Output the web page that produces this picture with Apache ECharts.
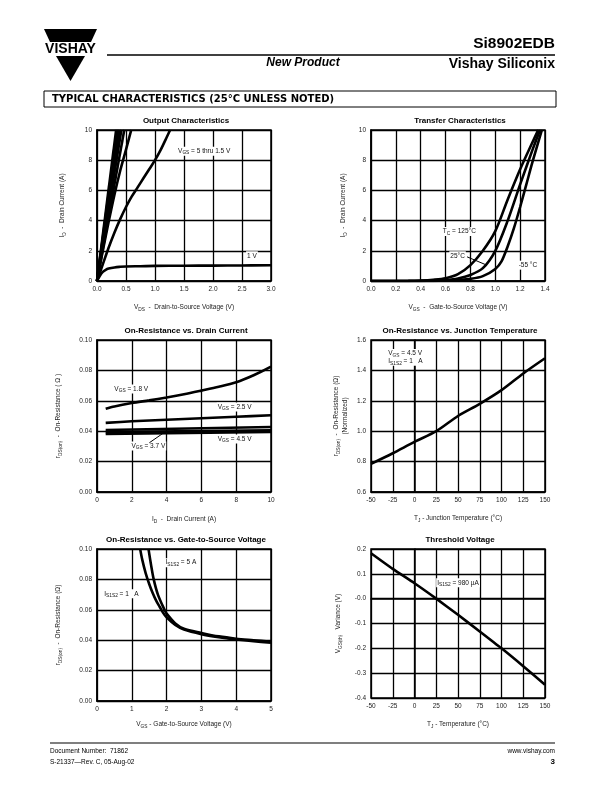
<!DOCTYPE html>
<html><head><meta charset="utf-8">
<script src="https://cdn.jsdelivr.net/npm/echarts@6/dist/echarts.min.js"></script>
<style>html,body{margin:0;padding:0;background:#fff}#c{width:612px;height:792px}</style>
</head><body><div id="c"></div>
<script>
// ---------- DATA ----------
// Output characteristics: [VDS (V), ID (A)]
const out_5V   = [[0,0],[0.33,10]];
const out_45V  = [[0,0],[0.35,10]];
const out_4V   = [[0,0],[0.37,10]];
const out_35V  = [[0,0],[0.39,10]];
const out_3V   = [[0,0],[0.42,10]];
const out_25V  = [[0,0],[0.47,10]];
const out_2V   = [[0,0],[0.1,2.0],[0.2,3.9],[0.3,5.7],[0.4,7.3],[0.5,8.7],[0.59,10]];
const out_15V  = [[0,0],[0.05,0.55],[0.1,1.1],[0.2,2.2],[0.3,3.2],[0.4,4.1],[0.5,4.9],[0.6,5.6],[0.7,6.2],[0.8,6.8],[0.9,7.4],[1.0,8.0],[1.1,8.7],[1.2,9.5],[1.26,10]];
const out_1V   = [[0,0],[0.05,0.35],[0.1,0.6],[0.15,0.74],[0.2,0.82],[0.3,0.9],[0.4,0.94],[0.5,0.96],[0.75,0.98],[1.0,1.0],[1.5,1.01],[2.0,1.02],[2.5,1.03],[3.0,1.04]];
// Transfer characteristics: [VGS (V), ID (A)]
const tr_125C = [[0,0],[0.3,0.01],[0.4,0.03],[0.5,0.08],[0.6,0.18],[0.7,0.45],[0.8,1.05],[0.9,2.0],[1.0,3.3],[1.1,5.4],[1.2,7.4],[1.3,9.2],[1.345,10]];
const tr_25C  = [[0,0],[0.4,0.01],[0.5,0.03],[0.6,0.07],[0.7,0.17],[0.8,0.4],[0.9,0.85],[1.0,2.0],[1.1,4.0],[1.2,6.4],[1.3,8.7],[1.36,10]];
const tr_m55C = [[0,0],[0.5,0.01],[0.6,0.03],[0.7,0.07],[0.8,0.14],[0.9,0.32],[1.0,0.8],[1.05,1.3],[1.1,2.3],[1.15,3.5],[1.2,4.9],[1.25,6.4],[1.3,7.9],[1.375,10]];
// On-resistance vs drain current: [ID (A), rDS(on) (ohm)]
const rid_18V = [[0.5,0.0548],[1,0.0563],[2,0.0585],[3,0.0603],[4,0.0622],[5,0.0643],[6,0.0667],[7,0.0692],[8,0.0722],[9,0.0768],[10,0.0825]];
const rid_25V = [[0.5,0.0455],[2,0.0465],[4,0.0475],[6,0.0485],[8,0.0495],[10,0.0505]];
const rid_3V  = [[0.5,0.0408],[10,0.0428]];
const rid_37V = [[0.5,0.0394],[10,0.0406]];
const rid_45V = [[0.5,0.0382],[10,0.0395]];
// On-resistance vs junction temperature (normalized)
const tj_temp = [-50,-25,0,25,50,75,100,125,150];
const tj_rnorm = [0.785,0.855,0.93,1.0,1.10,1.18,1.27,1.38,1.48];
// On-resistance vs gate-to-source voltage: [VGS (V), rDS(on)]
const rvg_1A = [[1.24,0.10],[1.3,0.093],[1.4,0.084],[1.5,0.077],[1.6,0.071],[1.7,0.066],[1.8,0.062],[1.9,0.058],[2.0,0.055],[2.25,0.050],[2.5,0.047],[3.0,0.0440],[3.5,0.042],[4.0,0.0405],[4.5,0.0393],[5.0,0.0383]];
const rvg_5A = [[1.48,0.10],[1.55,0.09],[1.63,0.08],[1.75,0.07],[1.94,0.06],[2.0,0.0575],[2.25,0.051],[2.5,0.0475],[3.0,0.0448],[3.5,0.0425],[4.0,0.041],[4.5,0.040],[5.0,0.039]];
// Threshold voltage variance
const vth_temp = [-50,-25,0,25,50,75,100,125,150];
const vth_var  = [0.183,0.12,0.062,0.0,-0.065,-0.132,-0.2,-0.272,-0.347];

// ---------- LAYOUT / STYLE ----------
const F = "'Liberation Sans', Arial, Helvetica, sans-serif";
const FN = "'Liberation Sans Narrow', 'Liberation Sans', Arial, sans-serif";
const grids = [
  {left:97, top:130, width:174, height:151},
  {left:371, top:130, width:174, height:151},
  {left:97, top:340, width:174, height:152},
  {left:371, top:340, width:174, height:152},
  {left:97, top:549, width:174, height:152},
  {left:371, top:549, width:174, height:149}
];
const richN = {
  m:{fontSize:6.5, fontFamily:F, color:'#222', lineHeight:9},
  s:{fontSize:4.8, fontFamily:F, color:'#222', lineHeight:5, verticalAlign:'bottom'}
};
function axX(i, min, max, interval, dec, name, gap){
  return {type:'value', gridIndex:i, min, max, interval,
    name, nameLocation:'middle', nameGap:gap, nameTextStyle:{rich:richN, fontSize:6.5, fontFamily:F, color:'#222'},
    axisLine:{show:true, lineStyle:{color:'#000', width:1.5}}, axisTick:{show:false},
    axisLabel:{fontSize:6.5, fontFamily:F, color:'#222', margin:5, formatter:v=>v.toFixed(dec)},
    splitLine:{show:true, lineStyle:{color:'#000', width:1.3}}};
}
function axY(i, min, max, interval, fmt, name, gap){
  return {type:'value', gridIndex:i, min, max, interval,
    name, nameLocation:'middle', nameGap:gap, nameRotate:90, nameTextStyle:{rich:richN, fontSize:6.5, fontFamily:F, color:'#222'},
    axisLine:{show:true, lineStyle:{color:'#000', width:1.5}}, axisTick:{show:false},
    axisLabel:{fontSize:6.5, fontFamily:F, color:'#222', margin:5, formatter:fmt},
    splitLine:{show:true, lineStyle:{color:'#000', width:1.3}}};
}
function ln(i, data, smooth){
  return {type:'line', xAxisIndex:i, yAxisIndex:i, data, showSymbol:false, symbol:'none',
    smooth: smooth||false, lineStyle:{color:'#000', width:2.6}, silent:true};
}
const zip = (a,b)=>a.map((v,k)=>[v,b[k]]);

const titlesTxt = ['Output Characteristics','Transfer Characteristics','On-Resistance vs. Drain Current',
  'On-Resistance vs. Junction Temperature','On-Resistance vs. Gate-to-Source Voltage','Threshold Voltage'];
const titles = grids.map((g,k)=>({text:titlesTxt[k], left:g.left+g.width/2-3, top:g.top-18, textAlign:'center',
  textStyle:{fontSize:8, fontWeight:'bold', fontFamily:FN, color:'#000'}}));

const option = {
  animation:false,
  backgroundColor:'#fff',
  title: titles,
  grid: grids.map(g=>Object.assign({show:true, borderColor:'#000', borderWidth:1.5, containLabel:false}, g)),
  xAxis:[
    axX(0,0,3,0.5,1,'{m|V}{s|DS}{m|  -  Drain-to-Source Voltage (V)}',22),
    axX(1,0,1.4,0.2,1,'{m|V}{s|GS}{m|  -  Gate-to-Source Voltage (V)}',22),
    axX(2,0,10,2,0,'{m|I}{s|D}{m|  -  Drain Current (A)}',23),
    axX(3,-50,150,25,0,'{m|T}{s|J}{m| - Junction Temperature (°C)}',22),
    axX(4,0,5,1,0,'{m|V}{s|GS}{m| - Gate-to-Source Voltage (V)}',19),
    axX(5,-50,150,25,0,'{m|T}{s|J}{m| - Temperature (°C)}',22)
  ],
  yAxis:[
    axY(0,0,10,2,v=>String(v),'{m|I}{s|D}{m|  -  Drain Current (A)}',30),
    axY(1,0,10,2,v=>String(v),'{m|I}{s|D}{m|  -  Drain Current (A)}',23),
    axY(2,0,0.1,0.02,v=>v.toFixed(2),'{m|r}{s|DS(on)}{m|  -  On-Resistance ( Ω )}',34),
    axY(3,0.6,1.6,0.2,v=>v.toFixed(1),'{m|r}{s|DS(on)}{m|  -  On-Resistance (Ω)}\n{m|(Normalized)}',21),
    axY(4,0,0.1,0.02,v=>v.toFixed(2),'{m|r}{s|DS(on)}{m|  -  On-Resistance (Ω)}',34),
    axY(5,-0.4,0.2,0.1,v=>Math.abs(v)<1e-9?'-0.0':v.toFixed(1),'{m|V}{s|GS(th)}{m|   Variance (V)}',28)
  ],
  series:[
    ln(0,out_5V),ln(0,out_45V),ln(0,out_4V),ln(0,out_35V),ln(0,out_3V),ln(0,out_25V),
    ln(0,out_2V,0.3),ln(0,out_15V,0.3),ln(0,out_1V,0.4),
    ln(1,tr_125C,0.3),ln(1,tr_25C,0.3),ln(1,tr_m55C,0.3),
    ln(2,rid_18V,0.3),ln(2,rid_25V,0.3),ln(2,rid_3V),ln(2,rid_37V),ln(2,rid_45V),
    ln(3,zip(tj_temp,tj_rnorm),0.3),
    ln(4,rvg_1A,0.3),ln(4,rvg_5A,0.3),
    ln(5,zip(vth_temp,vth_var),0.2)
  ]
};
const chart = echarts.init(document.getElementById('c'), null, {renderer:'canvas'});
chart.setOption(option);

// ---------- ANNOTATIONS & PAGE DECORATION ----------
const richA = {
  m:{fontSize:6.5, fontFamily:F, fill:'#111', color:'#111', lineHeight:9},
  s:{fontSize:4.8, fontFamily:F, fill:'#111', color:'#111', lineHeight:5, verticalAlign:'bottom'}
};
function px(i, x, y){ return chart.convertToPixel({gridIndex:i}, [x,y]); }
function anno(i, x, y, txt){
  const p = px(i,x,y);
  return {type:'text', x:p[0], y:p[1], z:50, style:{text:txt, rich:richA, verticalAlign:'middle', textVerticalAlign:'middle',
    backgroundColor:'#fff', padding:[0,1]}};
}
function lead(i, x1,y1,x2,y2){
  const a = px(i,x1,y1), b = px(i,x2,y2);
  return {type:'line', z:50, shape:{x1:a[0],y1:a[1],x2:b[0],y2:b[1]}, style:{stroke:'#000', lineWidth:1}};
}
function txt(x,y,t,font,align,va){
  return {type:'text', x, y, style:{text:t, font, fill:'#000', textAlign:align||'left', textVerticalAlign:va||'middle', verticalAlign:va||'middle'}};
}
const g = [
  // logo
  {type:'polygon', shape:{points:[[44,29],[97,29],[91,42],[50,42]]}, style:{fill:'#000'}},
  {type:'polygon', shape:{points:[[56,56],[85,56],[70.5,81]]}, style:{fill:'#000'}},
  txt(70.5,49.5,'VISHAY',"bold 14px 'Liberation Sans Narrow','Liberation Sans',Arial",'center','middle'),
  // header
  {type:'line', shape:{x1:107,y1:55,x2:555,y2:55}, style:{stroke:'#000', lineWidth:1.5}},
  txt(555,44,'Si8902EDB',"bold 15.5px 'Liberation Sans',Arial",'right','middle'),
  txt(303,63,'New Product',"italic bold 12px 'Liberation Sans',Arial",'center','middle'),
  txt(555,64,'Vishay Siliconix',"bold 14px 'Liberation Sans',Arial",'right','middle'),
  {type:'rect', shape:{x:44,y:91,width:512,height:16}, style:{fill:'#fff', stroke:'#000', lineWidth:1}},
  txt(52,99.5,'TYPICAL CHARACTERISTICS (25°C UNLESS NOTED)',"bold 10px 'DejaVu Sans',Arial",'left','middle'),
  // footer
  {type:'line', shape:{x1:50,y1:743,x2:555,y2:743}, style:{stroke:'#000', lineWidth:1.2}},
  txt(50,751,'Document Number:  71862',"6.5px 'Liberation Sans',Arial",'left','middle'),
  txt(50,762,'S-21337—Rev. C, 05-Aug-02',"6.5px 'Liberation Sans',Arial",'left','middle'),
  txt(555,751,'www.vishay.com',"6.5px 'Liberation Sans',Arial",'right','middle'),
  txt(555,762,'3',"bold 8px 'Liberation Sans',Arial",'right','middle'),
  // chart annotations
  anno(0,1.38,8.6,'{m|V}{s|GS}{m| = 5 thru 1.5 V}'),
  anno(0,2.57,1.67,'{m|1 V}'),
  anno(1,0.57,3.27,'{m|T}{s|C}{m| = 125°C}'),
  anno(1,0.63,1.67,'{m|25°C}'),
  lead(1,0.773,1.6,0.92,1.09),
  anno(1,1.18,1.05,'{m|-55 °C}'),
  anno(2,0.94,0.0678,'{m|V}{s|GS}{m| = 1.8 V}'),
  anno(2,6.88,0.0559,'{m|V}{s|GS}{m| = 2.5 V}'),
  anno(2,1.92,0.0302,'{m|V}{s|GS}{m| = 3.7 V}'),
  lead(2,3.01,0.0324,3.98,0.0401),
  anno(2,6.88,0.0348,'{m|V}{s|GS}{m| = 4.5 V}'),
  anno(3,-31.3,1.512,'{m|V}{s|GS}{m| = 4.5 V}'),
  anno(3,-31.3,1.46,'{m|I}{s|S1S2}{m| = 1   A}'),
  anno(4,1.94,0.091,'{m|I}{s|S1S2}{m| = 5 A}'),
  anno(4,0.18,0.0705,'{m|I}{s|S1S2}{m| = 1   A}'),
  anno(5,24.9,0.064,'{m|I}{s|S1S2}{m| = 980 µA}')
];
chart.setOption({graphic: g});
</script>
</body></html>
